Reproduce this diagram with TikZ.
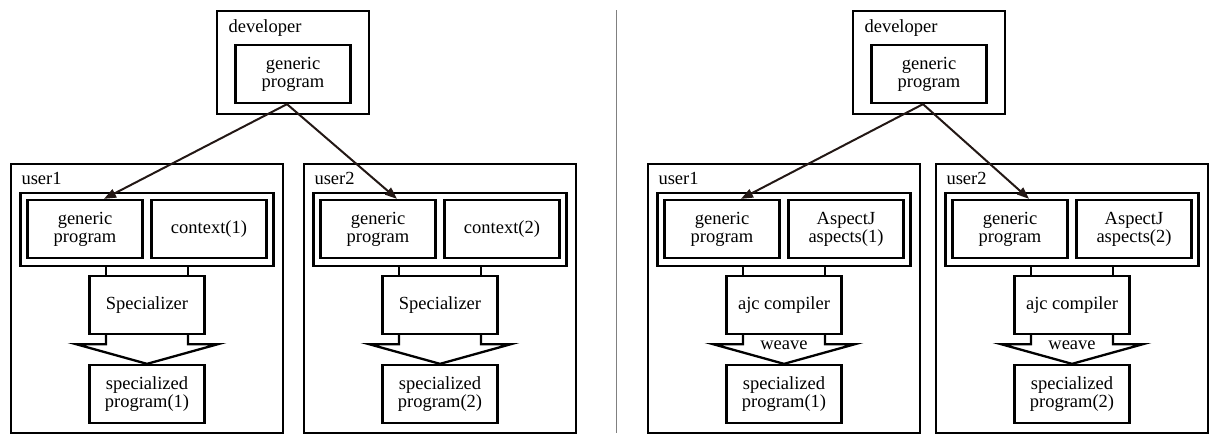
\documentclass[tikz,border=0pt]{standalone}
\usepackage{fontspec}
\setmainfont{Liberation Serif}
\newfontfamily\diagfont{Liberation Serif}
\usetikzlibrary{arrows.meta}
\definecolor{inkdark}{RGB}{35,24,21}

\begin{document}
\begin{tikzpicture}
        [
        x=1pt, y=-1pt,
        every node/.style={font=\diagfont\fontsize{18.5}{18}\selectfont},
        box/.style={rectangle, draw, line width=2.3pt, minimum width=115pt, minimum height=58pt, align=center, inner sep=1pt},
        cluster/.style={rectangle, draw, line width=2.3pt, minimum width=272pt, minimum height=269pt},
        devbox/.style={rectangle, draw, line width=2.3pt, minimum width=152pt, minimum height=103pt},
        wrapper/.style={rectangle, draw, line width=2.3pt, minimum width=253pt, minimum height=73pt},
        pipe/.style={line width=2.3pt},
        arr/.style={-{Triangle[length=12pt,width=9pt]}, line width=2pt, inkdark}
        ]
        \useasboundingbox (0,0) rectangle (1209,434);

        % developers
        \node[devbox] (devL) at (293,62.5) {};
        \node[anchor=base west] (devlabL) at (225,32) {developer};
        \node[box] (devgenL) at (293,74) {generic\\program};

        \node[devbox] (devR) at (929,62.5) {};
        \node[anchor=base west] (devlabR) at (861,32) {developer};
        \node[box] (devgenR) at (929,74) {generic\\program};

        % users
        \foreach \c/\n/\k/\ctx/\proc in {147/1L/1/{context(1)}/Specializer,
                                          440/2L/2/{context(2)}/Specializer,
                                          784/1R/1/{AspectJ\\aspects(1)}/{ajc compiler},
                                          1072/2R/2/{AspectJ\\aspects(2)}/{ajc compiler}}
        {
        \node[cluster] (u\n) at (\c,298.5) {};
        \node[anchor=base west] (ulab\n) at (\c-129,184) {user\k};
        \node[wrapper] (wrap\n) at (\c,229.5) {};
        \node[box] (gen\n) at (\c-62,229) {generic\\program};
        \node[box] (ctx\n) at (\c+62,229) {\ctx};
        \node[box] (proc\n) at (\c,305) {\proc};
        \node[box] (out\n) at (\c,394) {specialized\\program(\k)};

        \draw[pipe] ([xshift=-41pt]wrap\n.south) -- ([xshift=-41pt]proc\n.north);
        \draw[pipe] ([xshift=41pt]wrap\n.south) -- ([xshift=41pt]proc\n.north);
        \draw[pipe] ([xshift=-41pt]proc\n.south) -- ++(0,9) -- ++(-30,0) -- (out\n.north)
            -- ([xshift=71pt,yshift=-9pt]proc\n.south) -- ++(-30,0) -- ([xshift=41pt]proc\n.south);
        }

        \node[anchor=base] (weave1R) at (784,349) {weave};
        \node[anchor=base] (weave2R) at (1072,349) {weave};

        \draw[arr] ([xshift=-6pt]devgenL.south) -- ([xshift=19pt]gen1L.north);
        \draw[arr] ([xshift=-6pt]devgenL.south) -- ([xshift=19pt]gen2L.north);
        \draw[arr] ([xshift=-6pt]devgenR.south) -- ([xshift=19pt]gen1R.north);
        \draw[arr] ([xshift=-6pt]devgenR.south) -- ([xshift=19pt]gen2R.north);

        % divider
        \draw[gray, line width=1pt] (616,10) -- (616,433);
    \end{tikzpicture}
\end{document}
